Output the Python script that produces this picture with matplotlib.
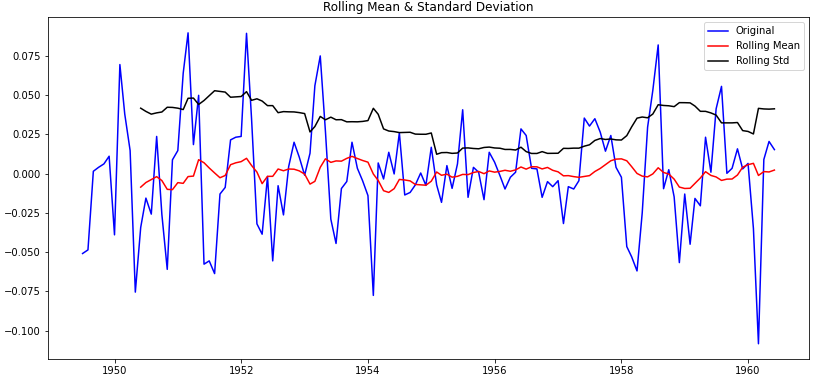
"""
Rolling mean & standard deviation of a monthly residual series
"""

import pandas as pd
import matplotlib.pyplot as plt

# monthly residual values, Jul 1949 - Jun 1960
start_month = '1949-07-01'
residual = [
    -0.0509, -0.0486, 0.0015, 0.0040, 0.0062, 0.0111, -0.0390, 0.0695, 0.0380, 0.0147,
    -0.0755, -0.0343, -0.0156, -0.0258, 0.0237, -0.0260, -0.0610, 0.0088, 0.0147, 0.0640,
    0.0897, 0.0185, 0.0499, -0.0577, -0.0556, -0.0637, -0.0130, -0.0088, 0.0215, 0.0232,
    0.0237, 0.0894, 0.0350, -0.0320, -0.0386, -0.0018, -0.0556, -0.0077, -0.0263, 0.0045,
    0.0200, 0.0105, -0.0010, 0.0130, 0.0560, 0.0750, 0.0267, -0.0290, -0.0445, -0.0095,
    -0.0050, 0.0200, 0.0034, -0.0045, -0.0140, -0.0776, 0.0068, -0.0034, 0.0136, -0.0002,
    0.0260, -0.0136, -0.0120, -0.0072, 0.0004, -0.0075, 0.0168, -0.0072, -0.0183, 0.0051,
    -0.0094, 0.0062, 0.0407, -0.0151, 0.0040, 0.0009, -0.0166, 0.0136, 0.0073, -0.0013,
    -0.0098, -0.0023, 0.0009, 0.0285, 0.0243, 0.0034, 0.0030, -0.0151, -0.0051, -0.0083,
    -0.0045, -0.0318, -0.0083, -0.0098, -0.0045, 0.0354, 0.0303, 0.0350, 0.0264, 0.0143,
    0.0243, 0.0040, -0.0023, -0.0465, -0.0530, -0.0620, -0.0250, 0.0296, 0.0530, 0.0820,
    -0.0096, 0.0025, -0.0148, -0.0567, -0.0130, -0.0450, -0.0158, -0.0205, 0.0232, 0.0009,
    0.0413, 0.0556, 0.0002, 0.0034, 0.0158, 0.0030, 0.0065, -0.0350, -0.1084, 0.0090,
    0.0205, 0.0153,
]
window = 12


def plot_rolling():
    dates = pd.date_range(start_month, periods=len(residual), freq='MS')
    ts = pd.Series(residual, index=dates)
    rolmean = ts.rolling(window=window).mean()
    rolstd = ts.rolling(window=window).std()

    fig = plt.figure(figsize=(819 / 72, 383 / 72), dpi=72)
    ax = fig.add_axes([0.0586, 0.0619, 0.9292, 0.8929])
    ax.plot(ts.index, ts.values, color='blue', label='Original')
    ax.plot(rolmean.index, rolmean.values, color='red', label='Rolling Mean')
    ax.plot(rolstd.index, rolstd.values, color='black', label='Rolling Std')
    ax.legend(loc='upper right')
    ax.set_title('Rolling Mean & Standard Deviation')

    fig.savefig('out.png', dpi=72)


if __name__ == "__main__":
    plot_rolling()
